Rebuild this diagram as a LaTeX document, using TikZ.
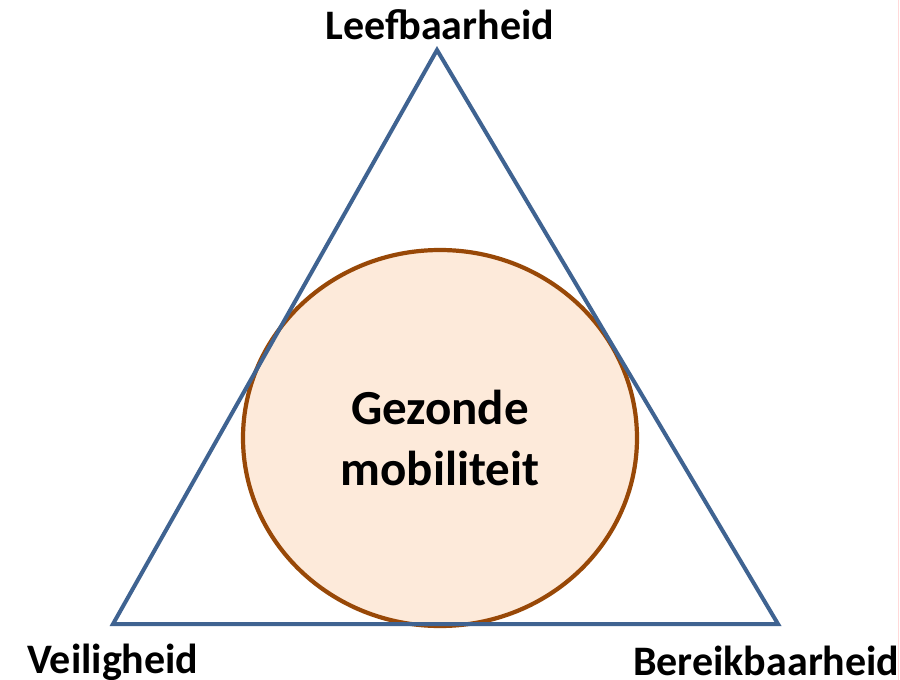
\documentclass[tikz,border=0pt]{standalone}
\usepackage{fontspec}
\setmainfont{Carlito}
\usetikzlibrary{shapes.geometric}
\definecolor{triblue}{HTML}{3F6391}
\definecolor{circbrown}{HTML}{984807}
\definecolor{circfill}{HTML}{FDEADA}
\tikzset{
  lbl/.style={font=\bfseries\fontsize{42}{46}\selectfont, text=black, inner sep=0pt},
  tri/.style={draw=triblue, line width=4pt, line join=miter},
  blob/.style={ellipse, draw=circbrown, fill=circfill, line width=4.2pt,
     minimum width=394pt, minimum height=376pt, inner sep=0pt, align=center,
     font=\bfseries\fontsize{49}{61}\selectfont}
}
\begin{document}
\begin{tikzpicture}[x=1pt,y=-1pt]
\useasboundingbox[fill=white] (0,0) rectangle (900,680);
\coordinate (top) at (437,50);
\coordinate (bl) at (113,624);
\coordinate (br) at (778,624);
\node[blob] (c) at (440,438) {Gezonde\\mobiliteit};
\draw[tri] (top) -- (bl) -- (br) -- cycle;
\node[lbl, anchor=base] (l1) at (440,39) {Leefbaarheid};
\node[lbl, anchor=base west] (l2) at (27,673) {Veiligheid};
\node[lbl, anchor=base west] (l3) at (633,675) {Bereikbaarheid};
\coordinate (e1) at (898.5,0);
\coordinate (e2) at (898.5,680);
\draw[color=red!15, line width=0.8pt] (e1) -- (e2);
\end{tikzpicture}
\end{document}
